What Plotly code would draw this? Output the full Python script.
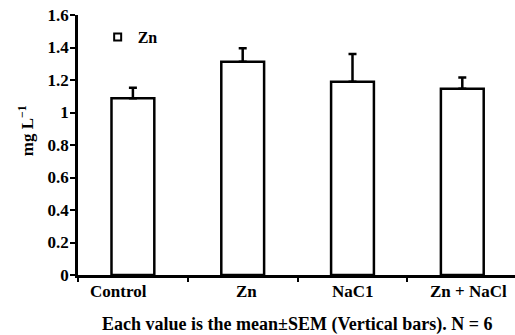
import plotly.graph_objects as go

categories = ["Control", "Zn", "NaC1", "Zn + NaCl"]
zn_values = [1.087, 1.313, 1.19, 1.146]
zn_sem = [0.066, 0.082, 0.17, 0.07]
y_tickvals = [0, 0.2, 0.4, 0.6, 0.8, 1.0, 1.2, 1.4, 1.6]
y_ticktext = ["<b>%s</b>" % t for t in ["0", "0.2", "0.4", "0.6", "0.8", "1", "1.2", "1.4", "1.6"]]
label_xshift = [-14, 4, 0, 6]

FAM = "Liberation Serif"

fig = go.Figure()
fig.add_trace(go.Bar(
    x=categories, y=zn_values, name="Zn", width=0.39,
    marker=dict(color="white", line=dict(color="black", width=2.5)),
    error_y=dict(type="data", array=zn_sem, arrayminus=[0]*len(zn_sem),
                 symmetric=False, color="black", thickness=2.5, width=4),
    showlegend=False,
))
fig.add_trace(go.Scatter(
    x=[None], y=[None], mode="markers", name="<b>Zn</b>",
    marker=dict(symbol="square-open", size=7, color="black", line=dict(width=2, color="black")),
    showlegend=True,
))

annotations = [
    dict(text="<b>%s</b>" % c, xref="x", yref="paper", x=c, y=0, xanchor="center", yanchor="top",
         yshift=-5, xshift=s, showarrow=False, font=dict(family=FAM, size=17, color="black"))
    for c, s in zip(categories, label_xshift)
]
annotations += [
    dict(text="<b>Each value is the mean±SEM (Vertical bars). N = 6</b>",
         xref="paper", yref="paper", x=0.5, y=-0.19, xanchor="center", yanchor="middle",
         showarrow=False, font=dict(family=FAM, size=18, color="black")),
    dict(text="<b>mg L<sup>−1</sup></b>", textangle=-90,
         xref="paper", yref="paper", x=-0.12, y=0.555, xanchor="center", yanchor="middle",
         showarrow=False, font=dict(family=FAM, size=17, color="black")),
]

fig.update_layout(
    width=515, height=335,
    margin=dict(l=78, r=0, t=15, b=60, autoexpand=False),
    plot_bgcolor="white", paper_bgcolor="white",
    font=dict(family=FAM, size=17, color="black"),
    showlegend=True,
    legend=dict(x=0.045, y=0.915, xanchor="left", yanchor="middle",
                bgcolor="rgba(0,0,0,0)", font=dict(family=FAM, size=16, color="black"),
                itemwidth=30, tracegroupgap=0),
    xaxis=dict(
        type="category", range=[-0.5, 3.48], automargin=False,
        showline=True, linecolor="black", linewidth=2.5,
        ticks="outside", tickson="boundaries", ticklen=4, tickwidth=2, tickcolor="black",
        showgrid=False, zeroline=False, showticklabels=False,
    ),
    yaxis=dict(
        range=[0, 1.6], tickvals=y_tickvals, ticktext=y_ticktext, automargin=False,
        showline=True, linecolor="black", linewidth=2.5,
        ticks="outside", ticklen=5, tickwidth=2, tickcolor="black",
        showgrid=False, zeroline=False, ticklabeloverflow="allow", ticklabelstandoff=-2,
        tickfont=dict(family=FAM, size=17, color="black"),
    ),
    annotations=annotations,
)

fig.write_html("out.html", config={"displayModeBar": False},
               post_script="document.body.style.margin='0';")
